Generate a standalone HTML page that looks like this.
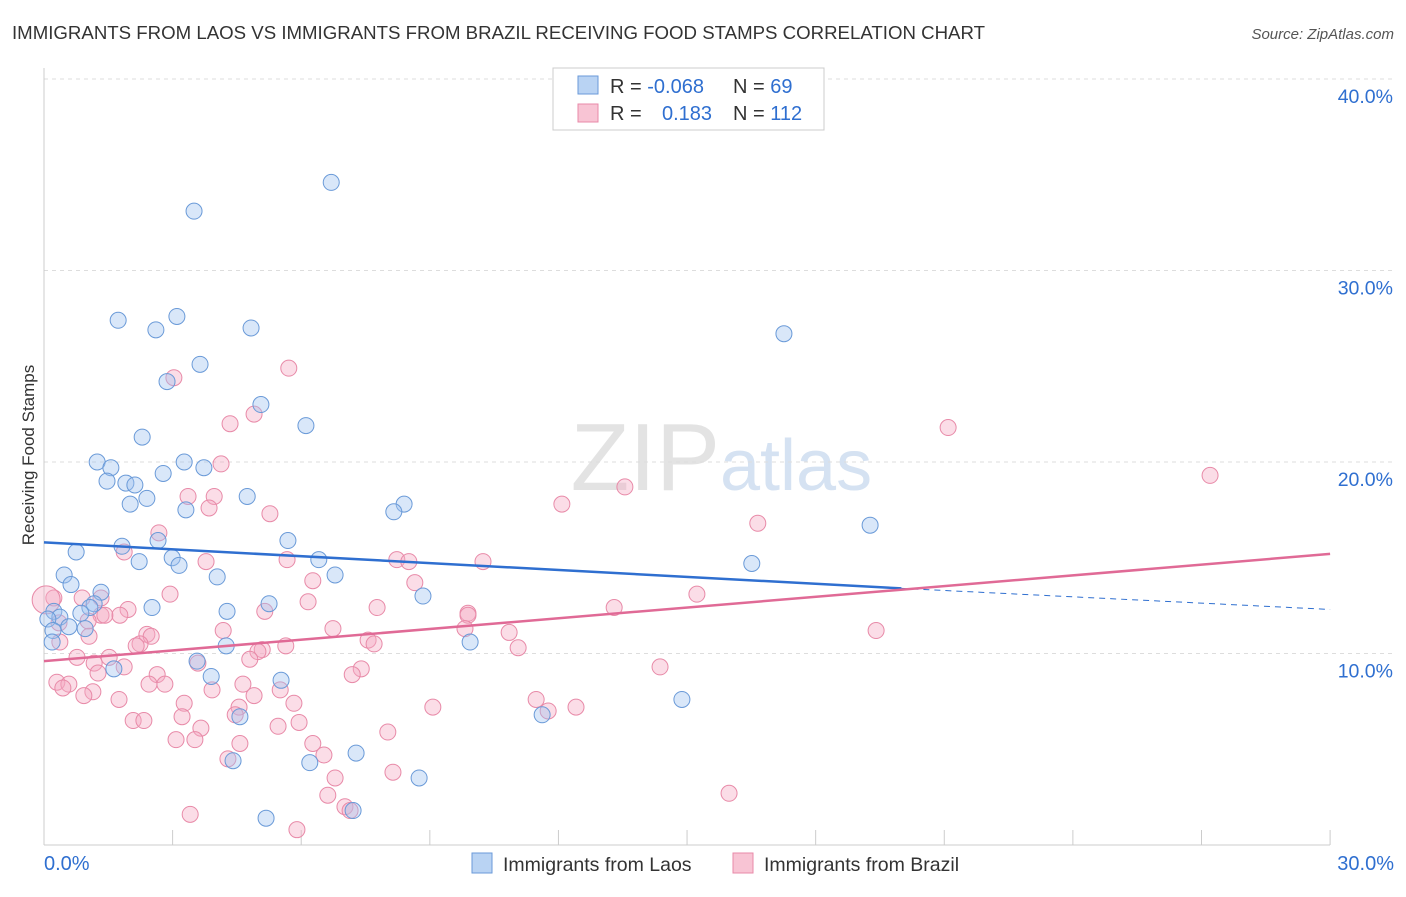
<!DOCTYPE html>
<html><head><meta charset="utf-8"><style>
body{margin:0;background:#fff;font-family:"Liberation Sans",sans-serif;}
svg text{font-family:"Liberation Sans",sans-serif;}
</style></head><body>
<svg id="chart" width="1406" height="892" xmlns="http://www.w3.org/2000/svg">
<text x="12" y="39" font-size="18.5" fill="#333" textLength="973" lengthAdjust="spacingAndGlyphs">IMMIGRANTS FROM LAOS VS IMMIGRANTS FROM BRAZIL RECEIVING FOOD STAMPS CORRELATION CHART</text>
<text x="1394" y="39" font-size="15" fill="#555" font-style="italic" text-anchor="end">Source: ZipAtlas.com</text>
<text x="720" y="490" font-size="96" fill="#e3e3e3" font-family="Liberation Serif" text-anchor="end">ZIP</text>
<text x="720" y="490" font-size="72" fill="#d5e2f2">atlas</text>
<text x="34" y="455" font-size="17" fill="#333" transform="rotate(-90 34 455)" text-anchor="middle">Receiving Food Stamps</text>
<g id="grid"></g><g id="pts"></g><g id="trend"></g>
<g>
<rect x="553" y="68" width="271" height="62" fill="#fff" stroke="#ccc"/>
<rect x="578" y="76" width="20" height="18" fill="#b9d3f3" stroke="#6a9ad8"/>
<rect x="578" y="104" width="20" height="18" fill="#f8c4d4" stroke="#e88aa8"/>
<text x="610" y="93" font-size="20" fill="#333">R = <tspan fill="#2f6fd0">-0.068</tspan><tspan x="733">N = </tspan><tspan fill="#2f6fd0">69</tspan></text>
<text x="610" y="120" font-size="20" fill="#333">R = <tspan x="662" fill="#2f6fd0">0.183</tspan><tspan x="733">N = </tspan><tspan fill="#2f6fd0">112</tspan></text>
</g>
<g>
<rect x="472" y="853" width="20" height="20" fill="#b9d3f3" stroke="#6a9ad8"/>
<text x="503" y="871" font-size="19.5" fill="#333">Immigrants from Laos</text>
<rect x="733" y="853" width="20" height="20" fill="#f8c4d4" stroke="#e88aa8"/>
<text x="764" y="871" font-size="19.5" fill="#333">Immigrants from Brazil</text>
</g>
<text x="44" y="870" font-size="20" fill="#2f6fd0">0.0%</text>
<text x="1394" y="870" font-size="20" fill="#2f6fd0" text-anchor="end">30.0%</text>
</svg>
<script>
const yTicks=[10,20,30,40];
const xTicks=[0,3,6,9,12,15,18,21,24,27,30];
const laosX=[6.7,3.5,1.73,2.61,3.1,4.83,17.26,3.64,2.87,5.06,6.11,2.29,1.24,1.56,3.27,3.73,2.78,1.47,1.91,2.12,2.4,4.74,2.01,3.31,8.4,8.16,19.27,5.69,2.66,1.82,0.75,2.99,2.22,3.15,6.41,16.51,0.47,4.04,6.79,0.63,1.33,8.84,1.17,1.07,2.52,5.25,4.27,0.23,0.37,0.86,0.09,0.58,0.21,0.96,0.19,4.25,9.94,3.57,1.63,3.9,5.53,14.88,11.62,4.57,7.28,4.41,6.2,8.75,5.18,7.21];
const laosY=[34.6,33.1,27.4,26.9,27.6,27.0,26.7,25.1,24.2,23.0,21.9,21.3,20.0,19.7,20.0,19.7,19.4,19.0,18.9,18.8,18.1,18.2,17.8,17.5,17.8,17.4,16.7,15.9,15.9,15.6,15.3,15.0,14.8,14.6,14.9,14.7,14.1,14.0,14.1,13.6,13.2,13.0,12.6,12.4,12.4,12.6,12.2,12.2,11.9,12.1,11.8,11.4,11.2,11.3,10.6,10.4,10.6,9.6,9.2,8.8,8.6,7.6,6.8,6.7,4.8,4.4,4.3,3.5,1.4,1.8];
const brX=[5.71,3.03,4.9,4.34,21.09,4.13,27.2,13.55,3.36,3.97,3.85,12.08,5.27,16.65,2.68,1.87,5.67,3.78,8.23,8.51,10.24,6.27,8.65,0.89,1.33,2.94,15.23,0.23,13.3,7.77,1.96,6.16,1.33,5.15,1.77,9.89,9.89,1.03,1.42,0.35,4.18,6.74,9.82,10.85,2.4,2.5,19.41,1.05,0.37,2.24,7.56,7.7,2.15,5.64,11.06,5.09,4.99,1.52,0.77,4.8,3.59,1.17,7.4,1.87,14.37,2.64,7.19,1.26,2.45,2.82,4.64,0.3,0.58,0.44,5.51,1.14,3.92,0.93,4.9,1.75,4.55,9.07,5.83,3.27,11.48,11.76,12.41,4.46,3.22,2.08,2.33,5.46,3.66,5.95,8.02,3.08,3.52,4.57,6.27,6.53,4.29,8.14,6.79,6.62,15.98,7.02,7.14,3.41,5.9,0.05];
const brY=[24.9,24.4,22.5,22.0,21.8,19.9,19.3,18.7,18.2,18.2,17.6,17.8,17.3,16.8,16.3,15.3,14.9,14.8,14.9,14.8,14.8,13.8,13.7,12.9,12.9,13.1,13.1,12.9,12.4,12.4,12.3,12.7,12.0,12.2,12.0,12.1,12.0,11.7,12.0,11.6,11.2,11.3,11.3,11.1,11.0,10.9,11.2,10.9,10.6,10.5,10.7,10.5,10.4,10.4,10.3,10.2,10.1,9.8,9.8,9.7,9.5,9.5,9.2,9.3,9.3,8.9,8.9,8.98,8.4,8.4,8.4,8.5,8.4,8.2,8.1,8.0,8.1,7.8,7.8,7.6,7.2,7.2,7.4,7.4,7.6,7.0,7.2,6.8,6.7,6.5,6.5,6.2,6.1,6.4,5.9,5.5,5.5,5.3,5.3,4.7,4.5,3.8,3.5,2.6,2.7,2.0,1.8,1.6,0.8,12.8];
const laosTrend=[15.8,13.4,12.3]; // at x=0, 20, 30
const brTrend=[9.6,15.2];
const X=v=>44+v*42.87, Y=v=>845-v*19.15;
const NS="http://www.w3.org/2000/svg";
function mk(t,a,p){const e=document.createElementNS(NS,t);for(const k in a)e.setAttribute(k,a[k]);p.appendChild(e);return e;}
const grid=document.getElementById('grid');
yTicks.forEach(t=>{
 const l=mk('line',{x1:44,x2:1393,y1:Y(t),y2:Y(t),stroke:'#ddd','stroke-dasharray':'4,4'},grid);
 
 
 const tx=mk('text',{x:1393,y:Y(t)+24,'font-size':19.5,fill:'#2f6fd0','text-anchor':'end'},grid);
 tx.textContent=t.toFixed(1)+'%';
 
 
});
mk('line',{x1:44,x2:44,y1:68,y2:845,stroke:'#ccc'},grid);
mk('line',{x1:44,x2:1330,y1:845,y2:845,stroke:'#ccc'},grid);
xTicks.forEach(t=>{const l=mk('line',{x1:X(t),x2:X(t),y1:830,y2:845,stroke:'#ccc'},grid);
 
 });
const pts=document.getElementById('pts');
brX.forEach((v,i)=>{const c=mk('circle',{cx:X(v),cy:Y(brY[i]),r:i==brX.length-1?14:8,fill:'rgba(244,170,195,0.4)',stroke:'#e88aa8','stroke-width':1},pts);
 
 });
laosX.forEach((v,i)=>{const c=mk('circle',{cx:X(v),cy:Y(laosY[i]),r:8,fill:'rgba(160,195,240,0.4)',stroke:'#6a9ad8','stroke-width':1},pts);
 
 });
const tr=document.getElementById('trend');
let l1=mk('line',{x1:X(0),y1:Y(laosTrend[0]),x2:X(20),y2:Y(laosTrend[1]),stroke:'#2f6fd0','stroke-width':2.5},tr);


let l2=mk('line',{x1:X(20),y1:Y(laosTrend[1]),x2:X(30),y2:Y(laosTrend[2]),stroke:'#2f6fd0','stroke-width':1,'stroke-dasharray':'6,5'},tr);


let l3=mk('line',{x1:X(0),y1:Y(brTrend[0]),x2:X(30),y2:Y(brTrend[1]),stroke:'#e06a96','stroke-width':2.5},tr);


</script>
</body></html>
